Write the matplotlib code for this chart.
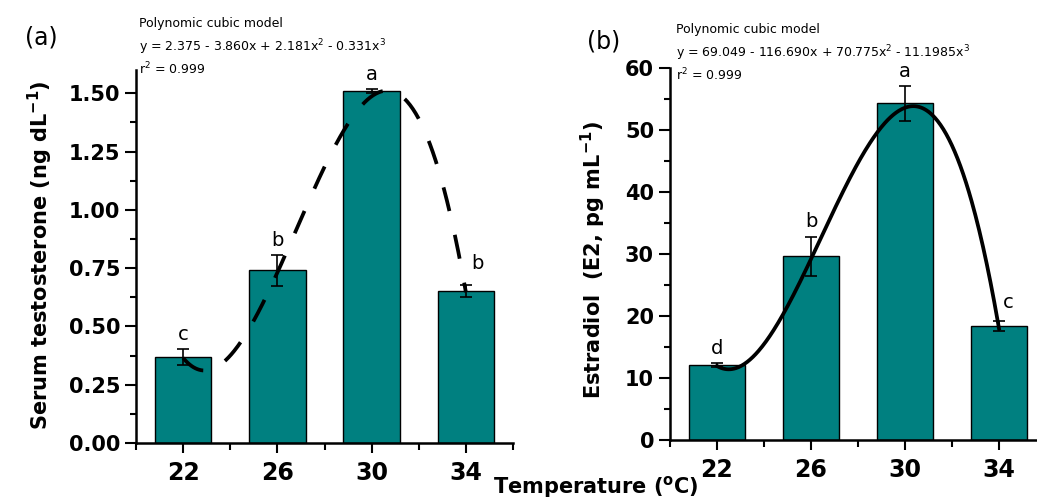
import numpy as np
import matplotlib
matplotlib.use("Agg")
import matplotlib.pyplot as plt
from matplotlib.ticker import MultipleLocator, FixedLocator

# ---------------- data ----------------
temps = ["22", "26", "30", "34"]
testo_mean = [0.37, 0.74, 1.51, 0.652]
testo_err = [0.035, 0.067, 0.01, 0.027]
testo_letters = ["c", "b", "a", "b"]
testo_coef = [2.375, -3.860, 2.181, -0.331]   # y = b0 + b1 x + b2 x^2 + b3 x^3 (x = 1..4)

e2_mean = [12.1, 29.6, 54.3, 18.4]
e2_err = [0.3, 3.2, 2.8, 0.75]
e2_letters = ["d", "b", "a", "c"]
e2_coef = [69.049, -116.690, 70.775, -11.1985]

W, H = 1037, 499
plt.rcParams['font.family'] = ['DejaVu Sans']
plt.rcParams['mathtext.default'] = 'regular'

fig = plt.figure(figsize=(W / 100, H / 100), dpi=100)

def px(x0, y0, x1, y1):
    return [x0 / W, 1 - y1 / H, (x1 - x0) / W, (y1 - y0) / H]

teal = "#008080"

def make_panel(ax, means, errs, letters, coef, ylim, major, minor, fmt, linestyle,
               label_gap, last_dx, last_gap):
    x = np.arange(len(temps))
    ax.bar(x, means, width=0.6, color=teal, edgecolor="black", linewidth=1.0, zorder=2)
    ax.errorbar(x, means, yerr=errs, fmt="none", ecolor="black", elinewidth=1.2,
                capsize=4.5, capthick=1.2, zorder=3)
    xs = np.linspace(1, 4, 300)
    ys = coef[0] + coef[1] * xs + coef[2] * xs ** 2 + coef[3] * xs ** 3
    if linestyle == "dashed":
        ax.plot(xs - 1, ys, color="black", lw=2.7, dashes=(6.5, 6.5), zorder=4)
    else:
        ax.plot(xs - 1, ys, color="black", lw=2.7, zorder=4)
    for i, (m, e, l) in enumerate(zip(means, errs, letters)):
        dx = last_dx if i == len(temps) - 1 else 0
        gap = last_gap if i == len(temps) - 1 else label_gap
        ax.text(i + dx, m + e + gap, l, ha="center", va="center", fontsize=14)
    ax.set_xlim(-0.5, 3.5)
    ax.set_ylim(*ylim)
    ax.set_xticks(x)
    ax.set_xticklabels(temps, fontsize=17, fontweight="bold")
    ax.xaxis.set_minor_locator(FixedLocator([-0.5, 0.5, 1.5, 2.5, 3.5]))
    ax.yaxis.set_major_locator(MultipleLocator(major))
    ax.yaxis.set_minor_locator(MultipleLocator(minor))
    ax.yaxis.set_major_formatter(fmt)
    for lab in ax.get_yticklabels():
        lab.set_fontweight("bold")
        lab.set_fontsize(15)
    ax.tick_params(axis="y", which="major", length=8, width=1.5, direction="out", pad=3.5)
    ax.tick_params(axis="y", which="minor", length=4.5, width=1.5, direction="out")
    ax.tick_params(axis="x", which="major", length=7, width=1.5, direction="out", pad=6)
    ax.tick_params(axis="x", which="minor", length=5, width=1.5, direction="out")
    for s in ["top", "right"]:
        ax.spines[s].set_visible(False)
    for s in ["left", "bottom"]:
        ax.spines[s].set_linewidth(1.8)

ax1 = fig.add_axes(px(136, 70, 513, 443))
make_panel(ax1, testo_mean, testo_err, testo_letters, testo_coef, (0, 1.6), 0.25, 0.125,
           "{x:.2f}", "dashed", 0.06, 0.12, 0.09)
ax1.set_yticks([0, 0.25, 0.5, 0.75, 1.0, 1.25, 1.5])

ax2 = fig.add_axes(px(670, 68, 1046, 440))
make_panel(ax2, e2_mean, e2_err, e2_letters, e2_coef, (0, 60), 10, 5,
           "{x:.0f}", "solid", 2.4, 0.1, 3.0)
ax2.set_xlim(-0.5, 3.5)

# axis titles
fig.text(40 / W, 1 - 255 / H, "Serum testosterone (ng dL$^{-1}$)", rotation=90,
         ha="center", va="center", fontsize=15, fontweight="bold")
fig.text(593 / W, 1 - 260 / H, "Estradiol  (E2, pg mL$^{-1}$)", rotation=90,
         ha="center", va="center", fontsize=15, fontweight="bold")
fig.text(596 / W, 1 - 487 / H, "Temperature ($^{o}$C)", ha="center", va="center",
         fontsize=15, fontweight="bold")

# panel labels
fig.text(41 / W, 1 - 38 / H, "(a)", ha="center", va="center", fontsize=17)
fig.text(604 / W, 1 - 41 / H, "(b)", ha="center", va="center", fontsize=17)

# model annotations
fs = 9
fig.text(139 / W, 1 - 24 / H, "Polynomic cubic model", va="center", fontsize=fs)
fig.text(139 / W, 1 - 47 / H, "y = 2.375 - 3.860x + 2.181x$^{2}$ - 0.331x$^{3}$",
         va="center", fontsize=fs)
fig.text(139 / W, 1 - 69 / H, "r$^{2}$ = 0.999", va="center", fontsize=fs)
fig.text(676 / W, 1 - 29 / H, "Polynomic cubic model", va="center", fontsize=fs)
fig.text(676 / W, 1 - 53 / H, "y = 69.049 - 116.690x + 70.775x$^{2}$ - 11.1985x$^{3}$",
         va="center", fontsize=fs)
fig.text(676 / W, 1 - 75 / H, "r$^{2}$ = 0.999", va="center", fontsize=fs)

fig.savefig("out.png", dpi=100)
